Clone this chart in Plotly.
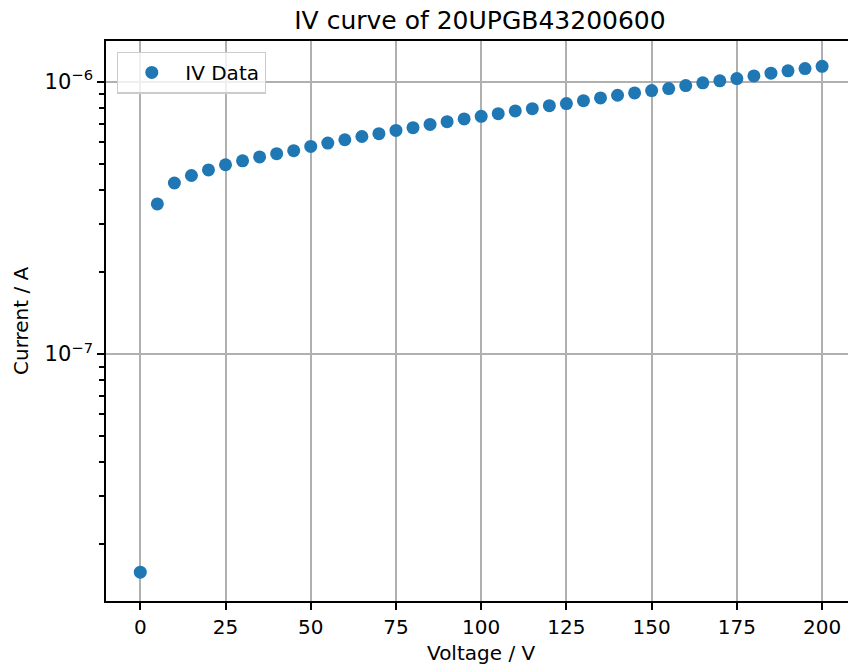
import plotly.graph_objects as go

voltage = [0, 5, 10, 15, 20, 25, 30, 35, 40, 45, 50, 55, 60, 65, 70, 75, 80, 85, 90, 95,
           100, 105, 110, 115, 120, 125, 130, 135, 140, 145, 150, 155, 160, 165, 170, 175,
           180, 185, 190, 195, 200]
current = [1.58e-8, 3.56e-7, 4.25e-7, 4.53e-7, 4.75e-7, 4.96e-7, 5.13e-7, 5.30e-7, 5.45e-7,
           5.59e-7, 5.79e-7, 5.96e-7, 6.13e-7, 6.30e-7, 6.45e-7, 6.63e-7, 6.79e-7, 6.98e-7,
           7.14e-7, 7.31e-7, 7.47e-7, 7.64e-7, 7.82e-7, 7.97e-7, 8.18e-7, 8.32e-7, 8.53e-7,
           8.73e-7, 8.93e-7, 9.11e-7, 9.29e-7, 9.45e-7, 9.69e-7, 9.92e-7, 1.009e-6, 1.028e-6,
           1.052e-6, 1.076e-6, 1.098e-6, 1.119e-6, 1.141e-6]
x_ticks = [0, 25, 50, 75, 100, 125, 150, 175, 200]
y_major_ticks = [1e-7, 1e-6]
y_major_text = ["10<sup>−7</sup>", "10<sup>−6</sup>"]
y_minor_ticks = [2e-8, 3e-8, 4e-8, 5e-8, 6e-8, 7e-8, 8e-8, 9e-8,
                 2e-7, 3e-7, 4e-7, 5e-7, 6e-7, 7e-7, 8e-7, 9e-7]

FONT = "DejaVu Sans"
Y_RANGE = [-7.9073, -5.8498]
fig = go.Figure()
fig.add_trace(go.Scatter(
    x=voltage, y=current, mode="markers", name="IV Data",
    marker=dict(color="#1f77b4", size=13, line=dict(width=0)),
))

fig.update_layout(
    width=848, height=664, autosize=False,
    margin=dict(l=106, r=0, t=41, b=63),
    paper_bgcolor="white", plot_bgcolor="white",
    font=dict(family=FONT, size=20, color="black"),
    title=dict(text="IV curve of 20UPGB43200600", x=0.504, xref="paper", xanchor="center",
               y=1 - 20 / 664, yref="container", yanchor="middle",
               font=dict(family=FONT, size=25, color="black")),
    showlegend=True,
    legend=dict(x=0.0148, y=0.981, xanchor="left", yanchor="top", itemwidth=57,
                bgcolor="rgba(255,255,255,0.8)", bordercolor="#cccccc", borderwidth=1.3,
                font=dict(family=FONT, size=20, color="black")),
    xaxis=dict(range=[-10.06, 207.6], tickvals=x_ticks, ticks="outside", ticklen=7,
               tickwidth=1.6, tickcolor="black", showline=True, linecolor="black",
               linewidth=1.6, mirror=True, showgrid=True, gridcolor="#b0b0b0",
               gridwidth=1.6, zeroline=False, tickfont=dict(size=20)),
    yaxis=dict(type="log", range=Y_RANGE, tickmode="array", tickvals=y_major_ticks,
               ticktext=y_major_text,
               ticks="outside", ticklen=7, tickwidth=1.6, tickcolor="black",
               showline=True, linecolor="black", linewidth=1.6, mirror=False,
               showgrid=True, gridcolor="#b0b0b0", gridwidth=1.6, zeroline=False,
               tickfont=dict(size=21),
               minor=dict(tickmode="array", tickvals=y_minor_ticks, ticks="outside",
                          ticklen=5, tickwidth=1.5, tickcolor="black", showgrid=False)),
    annotations=[
        dict(text="Voltage / V", xref="paper", yref="paper", x=(481 - 106) / 742,
             y=-(652 - 600.5) / 559, xanchor="center", yanchor="middle", showarrow=False,
             font=dict(family=FONT, size=20, color="black")),
        dict(text="Current / A", xref="paper", yref="paper", x=-(106 - 21) / 742,
             y=0.5, xanchor="center", yanchor="middle", textangle=-90, showarrow=False,
             font=dict(family=FONT, size=20, color="black")),
    ],
)

fig.write_html("out.html")
